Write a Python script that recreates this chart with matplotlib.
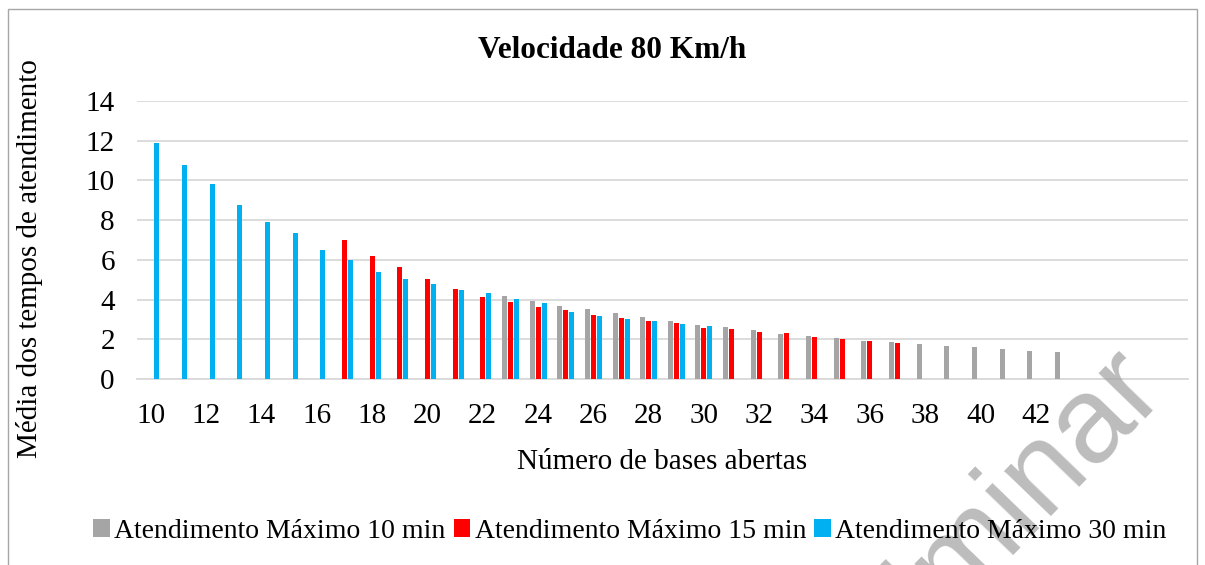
import matplotlib.pyplot as plt
from matplotlib.patches import Rectangle
import numpy as np

plt.rcParams['font.family'] = ['Liberation Serif', 'DejaVu Serif']

# categories: number of open bases
bases = list(range(10, 48))

# mean service time per series, indexed by the first base where the series starts
start_10min = 23
vals_10min = [4.16, 3.91, 3.69, 3.51, 3.32, 3.12, 2.94, 2.74, 2.62, 2.45,
              2.27, 2.17, 2.05, 1.93, 1.86, 1.78, 1.68, 1.60, 1.53, 1.43, 1.36]
start_15min = 17
vals_15min = [6.98, 6.21, 5.65, 5.04, 4.51, 4.13, 3.88, 3.64, 3.47, 3.22,
              3.07, 2.94, 2.80, 2.58, 2.50, 2.38, 2.32, 2.11, 2.00, 1.91, 1.81]
start_30min = 10
vals_30min = [11.90, 10.78, 9.80, 8.74, 7.90, 7.33, 6.50, 5.99, 5.40, 5.02,
              4.77, 4.48, 4.31, 4.01, 3.81, 3.39, 3.18, 3.04, 2.92, 2.79, 2.68]

tick_labels = [str(b) if (b % 2 == 0 and b <= 42) else '' for b in bases]

series = [
    ("Atendimento Máximo 10 min", start_10min, vals_10min, '#A5A5A5'),
    ("Atendimento Máximo 15 min", start_15min, vals_15min, '#FF0000'),
    ("Atendimento Máximo 30 min", start_30min, vals_30min, '#00B0F0'),
]

fig = plt.figure(figsize=(12.05, 5.65), dpi=100)
ax = fig.add_axes([137 / 1205, 1 - 379 / 565, 1051 / 1205, 278 / 565])

width = 0.18
step = 0.217
for k, (name, start, vals, color) in enumerate(series):
    x = np.arange(len(vals)) + (start - bases[0]) + (k - 1) * step
    ax.bar(x, vals, width=width, color=color, label=name, zorder=3)

ax.set_xlim(-0.5, len(bases) - 0.5)
ax.set_ylim(0, 14)
ax.set_yticks(range(0, 15, 2))
ax.set_xticks(range(len(bases)))
ax.set_xticklabels(tick_labels)
ax.tick_params(axis='both', length=0, labelsize=21)
ax.tick_params(axis='x', pad=17)
ax.tick_params(axis='y', pad=16)
ax.grid(axis='y', color='#D9D9D9', linewidth=1.3, zorder=0)
for s in ['top', 'right', 'left']:
    ax.spines[s].set_visible(False)
ax.spines['bottom'].set_color('#D9D9D9')
ax.spines['bottom'].set_linewidth(1.3)

fig.text(612 / 1205, 1 - 51 / 565, "Velocidade 80 Km/h", ha='center', va='center',
         fontsize=22.5, fontweight='bold')
fig.text(662 / 1205, 1 - 462 / 565, "Número de bases abertas", ha='center', va='center',
         fontsize=21)
fig.text(30 / 1205, 1 - 259 / 565, "Média dos tempos de atendimento", ha='center',
         va='center', rotation=90, fontsize=21)

handles, labels = ax.get_legend_handles_labels()
fig.legend(handles, labels, loc='center', bbox_to_anchor=(630 / 1205, 1 - 531 / 565),
           ncol=3, frameon=False, fontsize=20, handlelength=0.6, handleheight=0.6,
           handletextpad=0.15, columnspacing=0.3)

# chart border
fig.patches.append(Rectangle((8 / 1205, -0.05), 1189 / 1205, 1.05 - 9 / 565,
                             transform=fig.transFigure, fill=False,
                             edgecolor='#A6A6A6', linewidth=1))

# watermark
fig.text(1165 / 1205, 1 - 388 / 565, "Preliminar", ha='right', va='baseline',
         rotation=46, rotation_mode='anchor', fontsize=88, color='#A0A0A0',
         alpha=0.7, family='Liberation Sans')

fig.savefig('out.png', dpi=100)
